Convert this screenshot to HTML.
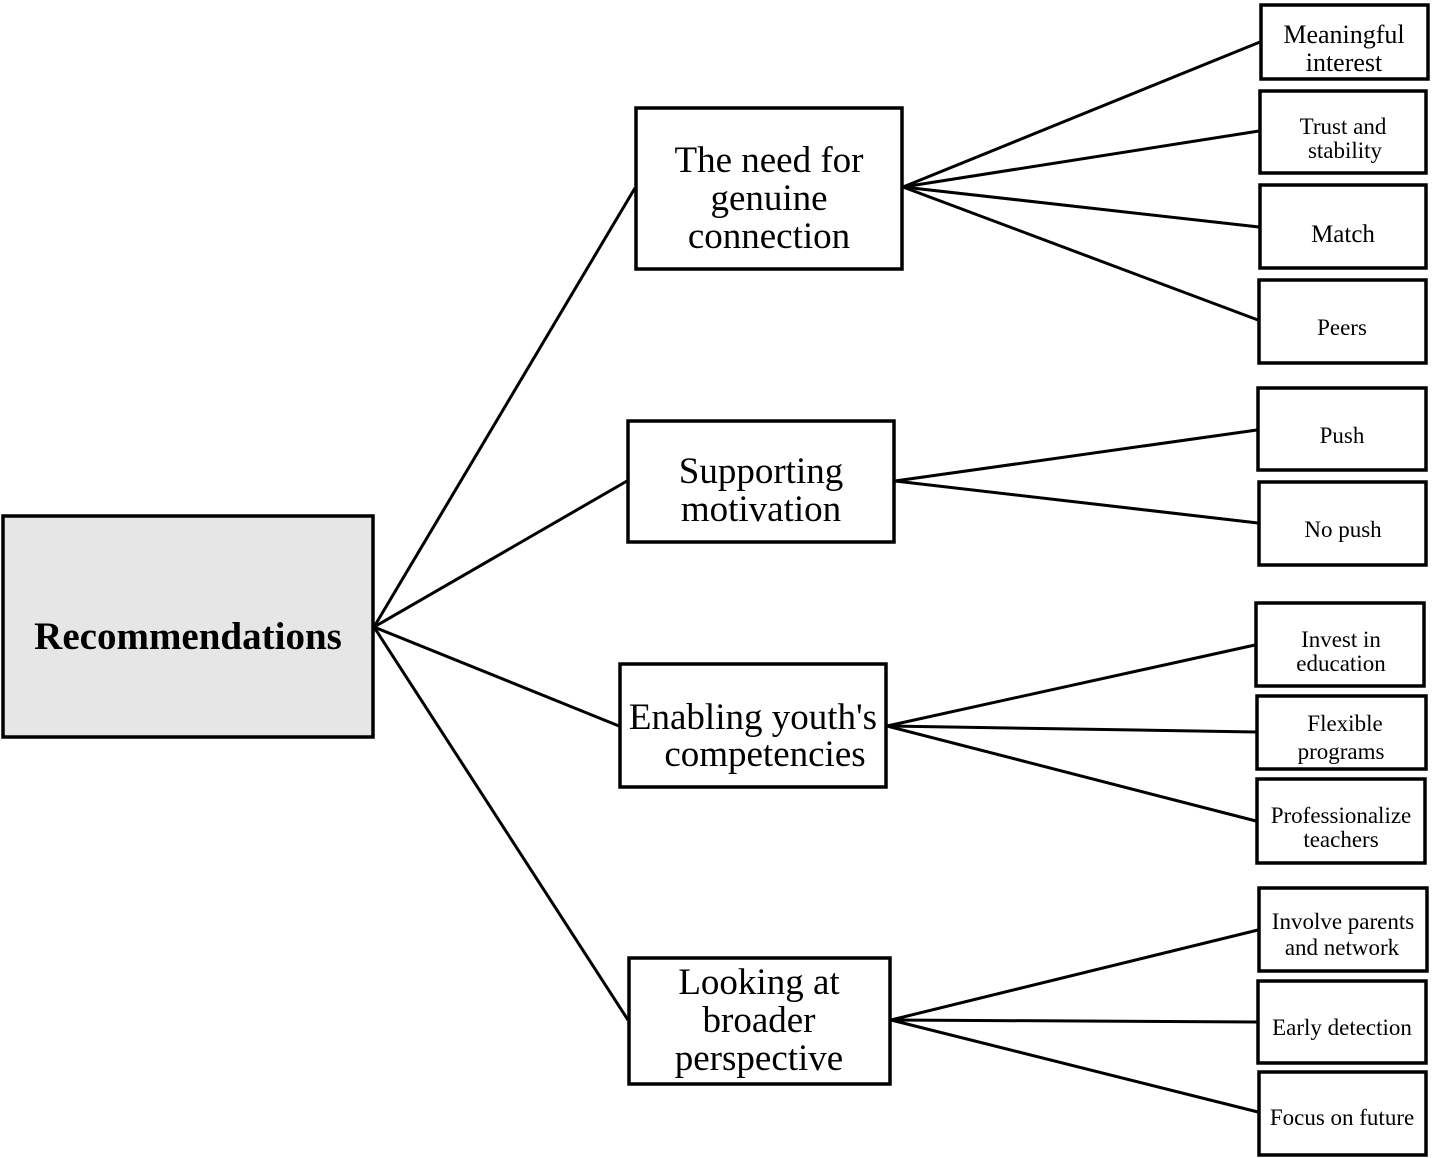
<!DOCTYPE html>
<html><head><meta charset="utf-8"><style>
html,body{margin:0;padding:0;background:#fff;}
svg{display:block;}
text{font-family:"Liberation Serif",serif;fill:#000;text-anchor:middle;}
</style></head><body>
<svg width="1433" height="1158" viewBox="0 0 1433 1158" xmlns="http://www.w3.org/2000/svg">
<g stroke="#000" stroke-width="3" fill="none">
<line x1="374" y1="627" x2="635" y2="188"/>
<line x1="374" y1="627" x2="627" y2="481"/>
<line x1="374" y1="627" x2="619" y2="726"/>
<line x1="374" y1="627" x2="628" y2="1020"/>
<line x1="903" y1="187" x2="1260" y2="42"/>
<line x1="903" y1="187" x2="1259" y2="131"/>
<line x1="903" y1="187" x2="1259" y2="227"/>
<line x1="903" y1="187" x2="1258" y2="320"/>
<line x1="895" y1="481" x2="1257" y2="430"/>
<line x1="895" y1="481" x2="1258" y2="523"/>
<line x1="887" y1="726" x2="1255" y2="645"/>
<line x1="887" y1="726" x2="1256" y2="732"/>
<line x1="887" y1="726" x2="1256" y2="821"/>
<line x1="891" y1="1020" x2="1258" y2="930"/>
<line x1="891" y1="1020" x2="1257" y2="1022"/>
<line x1="891" y1="1020" x2="1258" y2="1112"/>
</g>
<g stroke="#000" stroke-width="3.5" fill="#fff">
<rect x="3" y="516" width="370" height="221" fill="#e6e6e6"/>
<rect x="636" y="108" width="266" height="161"/>
<rect x="628" y="421" width="266" height="121"/>
<rect x="620" y="664" width="266" height="123"/>
<rect x="629" y="958" width="261" height="126"/>
<rect x="1261" y="5" width="167" height="74"/>
<rect x="1260" y="91" width="166" height="82"/>
<rect x="1260" y="185" width="166" height="83"/>
<rect x="1259" y="280" width="167" height="83"/>
<rect x="1258" y="388" width="168" height="82"/>
<rect x="1259" y="482" width="167" height="83"/>
<rect x="1256" y="603" width="168" height="83"/>
<rect x="1257" y="696" width="169" height="73"/>
<rect x="1257" y="779" width="168" height="84"/>
<rect x="1259" y="888" width="168" height="83"/>
<rect x="1258" y="981" width="168" height="82"/>
<rect x="1259" y="1072" width="167" height="83"/>
</g>
<text x="188" y="649" font-size="39" font-weight="bold">Recommendations</text>
<g font-size="37">
<text x="769" y="172">The need for</text>
<text x="769" y="210">genuine</text>
<text x="769" y="248">connection</text>
<text x="761" y="483">Supporting</text>
<text x="761" y="521">motivation</text>
<text x="753" y="729">Enabling youth's</text>
<text x="765" y="766">competencies</text>
<text x="759" y="994">Looking at</text>
<text x="759" y="1032">broader</text>
<text x="759" y="1070">perspective</text>
</g>
<g font-size="26">
<text x="1344" y="43">Meaningful</text>
<text x="1344" y="71">interest</text>
</g>
<g font-size="23">
<text x="1343" y="134">Trust and</text>
<text x="1345" y="158">stability</text>
<text x="1343" y="242" font-size="25">Match</text>
<text x="1342" y="335">Peers</text>
<text x="1342" y="443">Push</text>
<text x="1343" y="537">No push</text>
<text x="1341" y="647">Invest in</text>
<text x="1341" y="671">education</text>
<text x="1345" y="731">Flexible</text>
<text x="1341" y="759">programs</text>
<text x="1341" y="823">Professionalize</text>
<text x="1341" y="847">teachers</text>
<text x="1343" y="929">Involve parents</text>
<text x="1342" y="955">and network</text>
<text x="1342" y="1035">Early detection</text>
<text x="1342" y="1125">Focus on future</text>
</g>
</svg>
</body></html>
